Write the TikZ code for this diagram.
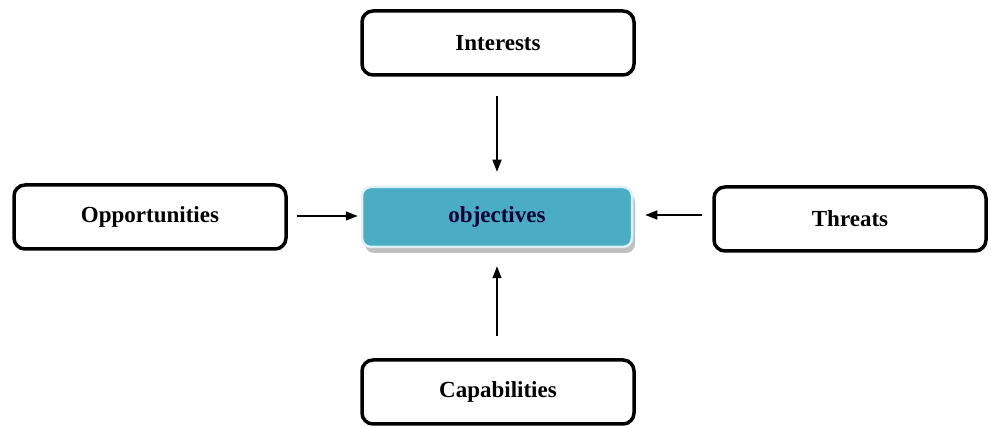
\documentclass[tikz,border=0pt]{standalone}
\usepackage{fontspec}
\setmainfont{Liberation Serif}
\usetikzlibrary{arrows.meta,shadows}
\definecolor{objblue}{HTML}{4BACC6}
\definecolor{objedge}{HTML}{DDF1F7}
\begin{document}
\begin{tikzpicture}[x=1pt,y=-1pt,
  factor/.style={draw=black,line width=3.5pt,rounded corners=11pt,fill=white,
    minimum width=272pt,minimum height=64pt,inner sep=0pt,
    font=\fontsize{23}{27}\selectfont\bfseries},
  core/.style={draw=objedge,line width=2.5pt,rounded corners=9pt,fill=objblue,
    minimum width=270pt,minimum height=60pt,inner sep=0pt,
    drop shadow={shadow xshift=3pt,shadow yshift=-6pt,fill=black!45,opacity=0.55},
    font=\fontsize{23}{27}\selectfont\bfseries,text=black!80!blue},
  link/.style={line width=1.4pt,-{Triangle[length=12pt,width=9pt]}}]
\useasboundingbox (0,0) rectangle (991,427);
\node[core] (obj) at (497,217) {objectives};
\node[factor] (int) at (498,43) {Interests};
\node[factor] (opp) at (150,217) {Opportunities};
\node[factor] (thr) at (850,219) {Threats};
\node[factor] (cap) at (498,392) {Capabilities};
\draw[link] (int.south -| obj.north) ++(0,19) coordinate (a1) -- ++(0,76) coordinate (a2);
\draw[link] ([yshift=-1pt]opp.east) ++(9,-2) coordinate (b1) -- ++(61,0);
\draw[link] (thr.west) ++(-10,-4) coordinate (c1) -- ++(-57,0);
\draw[link] (cap.north -| obj.south) ++(0,-22) coordinate (d1) -- ++(0,-70);
\end{tikzpicture}
\end{document}
